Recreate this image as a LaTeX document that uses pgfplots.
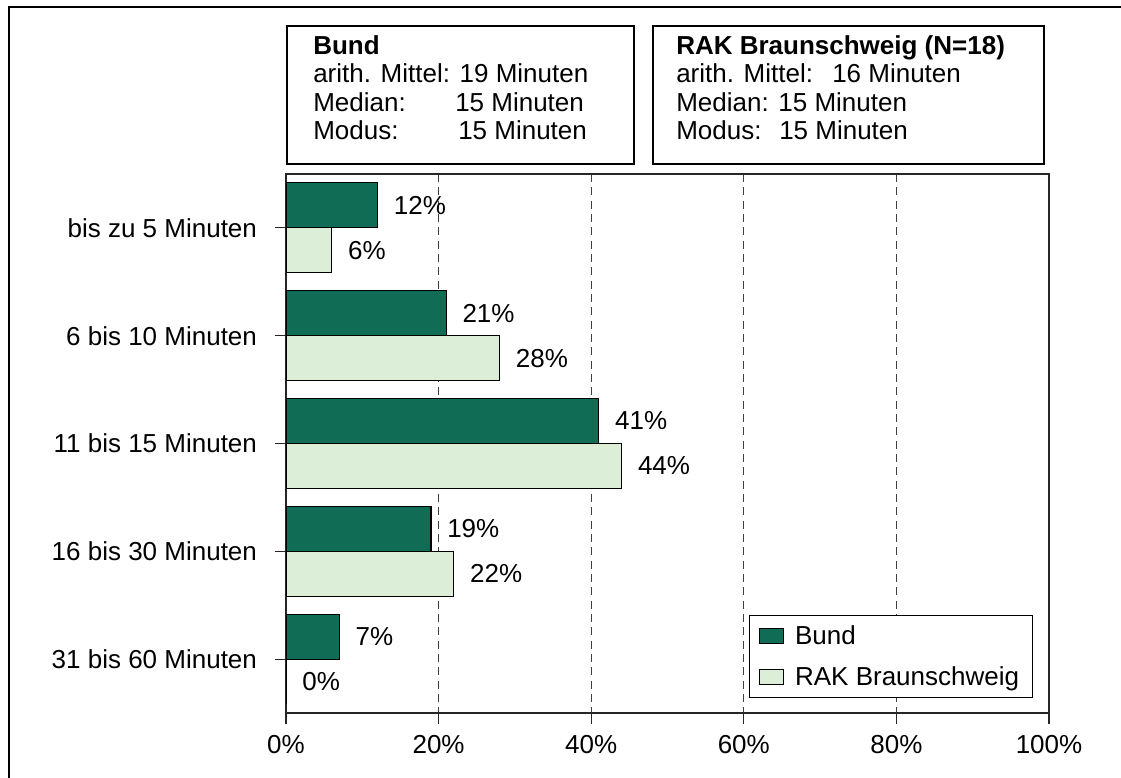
\documentclass[border=0pt]{standalone}
\usepackage{pgfplots}
\pgfplotsset{compat=1.18}
\usepackage{fontspec}
\setmainfont{Liberation Sans}
\definecolor{bund}{RGB}{17,108,86}
\definecolor{rak}{RGB}{220,237,216}
\newcommand\fs{\fontsize{19.5}{21}\selectfont}
\pgfplotstableread{
cat val
0 12
1 21
2 41
3 19
4 7
}\bund
\pgfplotstableread{
cat val
0 6
1 28
2 44
3 22
4 0
}\rak
\begin{document}
\begin{tikzpicture}[font=\fs]
\useasboundingbox (0,0) rectangle (840.75pt,583.5pt);
\begin{scope}[x=0.75pt,y=-0.75pt,yshift=583.5pt]
\draw[line width=1.5pt] (8.5,800) -- (8.5,7) -- (1130,7);
\draw[line width=0.8pt] (287,26) rectangle (634,164);
\draw[line width=0.8pt] (653,26) rectangle (1044,164);
\node[anchor=base west,inner sep=0] at (313,55) {\bfseries Bund};
\node[anchor=base west,inner sep=0] at (313,83) {arith. Mittel: 19 Minuten};
\node[anchor=base west,inner sep=0] at (313,112) {Median:};
\node[anchor=base west,inner sep=0] at (455,112) {15 Minuten};
\node[anchor=base west,inner sep=0] at (313,140) {Modus:};
\node[anchor=base west,inner sep=0] at (458,140) {15 Minuten};
\node[anchor=base west,inner sep=0] at (676,55) {\bfseries RAK Braunschweig (N=18)};
\node[anchor=base west,inner sep=0] at (676,83) {arith. Mittel:};
\node[anchor=base west,inner sep=0] at (832,83) {16 Minuten};
\node[anchor=base west,inner sep=0] at (676,112) {Median: 15 Minuten};
\node[anchor=base west,inner sep=0] at (676,140) {Modus:};
\node[anchor=base west,inner sep=0] at (779,140) {15 Minuten};
\end{scope}
\begin{axis}[
  at={(214.5pt,48.75pt)}, anchor=south west,
  scale only axis, width=572.25pt, height=404.25pt,
  xbar, xmin=0, xmax=100, ymin=-0.5, ymax=4.5, y dir=reverse,
  bar width=0.417,
  axis line style={line width=1pt, black!85},
  ytick={0,1,2,3,4},
  yticklabels={bis zu 5 Minuten,6 bis 10 Minuten,11 bis 15 Minuten,16 bis 30 Minuten,31 bis 60 Minuten},
  xtick={0,20,40,60,80,100},
  xticklabel={\pgfmathprintnumber{\tick}\%},
  /pgf/number format/assume math mode=true,
  tick label style={font=\fs},
  yticklabel style={xshift=-9.75pt},
  xticklabel style={yshift=-5pt},
  tick align=outside, xtick pos=lower, ytick pos=left,
  major tick length=8.5pt,
  tick style={line width=0.8pt, black!85},
  xmajorgrids, grid style={dash pattern=on 6pt off 4pt, line width=0.7pt, black!75},
  nodes near coords={\pgfmathprintnumber{\pgfplotspointmeta}\%},
  point meta=x,
  nodes near coords style={font=\fs, anchor=west, xshift=8.5pt},
  legend image code/.code={\path[draw=none,fill=none] (0pt,0pt) -- (24pt,0pt); \draw[#1] (3pt,-5.6pt) rectangle (21pt,5.6pt);},
  legend style={at={(0.979,0.028)}, anchor=south east, draw=black, line width=0.8pt,
     font=\fs, row sep=9pt, inner xsep=4pt, inner ysep=4.5pt,
     nodes={inner xsep=6pt, inner ysep=3pt}},
  legend cell align=left,
]
\addplot[fill=bund, draw=black, line width=0.8pt, bar shift=-0.2085] table[x=val,y=cat] {\bund};
\addplot[fill=rak, draw=black, line width=0.8pt, bar shift=0.2085] table[x=val,y=cat] {\rak};
\legend{Bund, RAK Braunschweig}
\end{axis}
\end{tikzpicture}
\end{document}
